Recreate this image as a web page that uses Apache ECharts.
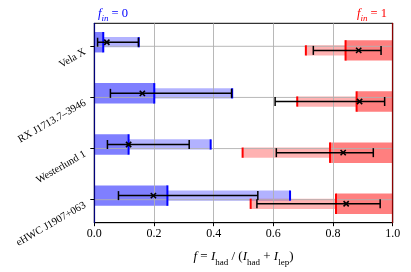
<!DOCTYPE html>
<html>
<head>
<meta charset="utf-8">
<script src="https://cdn.jsdelivr.net/npm/echarts@6/dist/echarts.min.js"></script>
<style>html,body{margin:0;padding:0;background:#fff}#c{width:411px;height:272px}</style>
</head>
<body>
<div id="c"></div>
<script>
const categories = ['Vela X', 'RX J1713.7\u20133946', 'Westerlund 1', 'eHWC J1907+063'];
const xTicks = [0, 0.2, 0.4, 0.6, 0.8, 1.0];
// f_in = 0 (blue)
const blueDark = [0.030, 0.201, 0.115, 0.245];
const blueLight = [0.149, 0.462, 0.390, 0.656];
const blueErrLow = [0.011, 0.054, 0.044, 0.081];
const blueVal = [0.042, 0.161, 0.115, 0.198];
const blueErrHigh = [0.148, 0.460, 0.318, 0.548];
// f_in = 1 (red)
const redLight = [0.709, 0.680, 0.497, 0.524];
const redDark = [0.842, 0.879, 0.790, 0.810];
const redErrLow = [0.734, 0.606, 0.610, 0.545];
const redVal = [0.886, 0.889, 0.834, 0.844];
const redErrHigh = [0.961, 0.973, 0.935, 0.958];

const FONT = 'Liberation Serif';
const OFF = 0.08;     // vertical offset of each group (category units)
const HD = 0.40;      // dark bar height
const HL = 0.20;      // light bar height

const blueData = categories.map((c, i) => [i, blueDark[i], blueLight[i], blueErrLow[i], blueVal[i], blueErrHigh[i]]);
const redData = categories.map((c, i) => [i, redDark[i], redLight[i], redErrLow[i], redVal[i], redErrHigh[i]]);

function barsRenderer(side) {
  return function (params, api) {
    const i = api.value(0), dark = api.value(1), light = api.value(2);
    const y = i + (side === 'blue' ? -OFF : OFF);
    const hd = api.size([0, HD])[1], hl = api.size([0, HL])[1];
    const cy = api.coord([0, y])[1];
    let dx0, dx1, lx0, lx1, darkC, lightC;
    if (side === 'blue') {
      dx0 = api.coord([0, y])[0]; dx1 = api.coord([dark, y])[0];
      lx0 = dx1; lx1 = api.coord([light, y])[0];
      darkC = 'rgba(0,0,255,0.5)'; lightC = 'rgba(0,0,255,0.3)';
    } else {
      dx0 = api.coord([dark, y])[0]; dx1 = api.coord([1, y])[0];
      lx0 = api.coord([light, y])[0]; lx1 = dx0;
      darkC = 'rgba(255,0,0,0.5)'; lightC = 'rgba(255,0,0,0.3)';
    }
    return {
      type: 'group', children: [
        { type: 'rect', shape: { x: lx0, y: cy - hl / 2, width: lx1 - lx0, height: hl }, style: { fill: lightC } },
        { type: 'rect', shape: { x: dx0, y: cy - hd / 2, width: dx1 - dx0, height: hd }, style: { fill: darkC } }
      ]
    };
  };
}

function marksRenderer(side) {
  return function (params, api) {
    const i = api.value(0), dark = api.value(1), light = api.value(2);
    const lo = api.value(3), val = api.value(4), hi = api.value(5);
    const y = i + (side === 'blue' ? -OFF : OFF);
    const hd = api.size([0, HD])[1], hl = api.size([0, HL])[1];
    const cy = api.coord([0, y])[1];
    const col = side === 'blue' ? '#0000ff' : '#ff0000';
    const xd = api.coord([dark, y])[0], xl = api.coord([light, y])[0];
    const xlo = api.coord([lo, y])[0], xv = api.coord([val, y])[0], xhi = api.coord([hi, y])[0];
    const cap = 4.5, m = 2.6;
    const blk = { stroke: '#000', lineWidth: 1.5 };
    return {
      type: 'group', children: [
        { type: 'line', shape: { x1: xd, y1: cy - hd / 2, x2: xd, y2: cy + hd / 2 }, style: { stroke: col, lineWidth: 2 } },
        { type: 'line', shape: { x1: xl, y1: cy - hl / 2, x2: xl, y2: cy + hl / 2 }, style: { stroke: col, lineWidth: 2 } },
        { type: 'line', shape: { x1: xlo, y1: cy, x2: xhi, y2: cy }, style: blk },
        { type: 'line', shape: { x1: xlo, y1: cy - cap, x2: xlo, y2: cy + cap }, style: blk },
        { type: 'line', shape: { x1: xhi, y1: cy - cap, x2: xhi, y2: cy + cap }, style: blk },
        { type: 'line', shape: { x1: xv - m, y1: cy - m, x2: xv + m, y2: cy + m }, style: { stroke: '#000', lineWidth: 1.6 } },
        { type: 'line', shape: { x1: xv - m, y1: cy + m, x2: xv + m, y2: cy - m }, style: { stroke: '#000', lineWidth: 1.6 } }
      ]
    };
  };
}

function gridRenderer(params, api) {
  const i = api.value(0);
  const p0 = api.coord([0, i]), p1 = api.coord([1, i]);
  return { type: 'line', shape: { x1: p0[0], y1: p0[1], x2: p1[0], y2: p1[1] }, style: { stroke: '#b0b0b0', lineWidth: 0.9 } };
}

function titleStyle(color) {
  return { fontFamily: FONT, fontSize: 12.5, fontWeight: 'normal', color: color, rich: {
    i: { fontFamily: FONT, fontStyle: 'italic', fontWeight: 'normal', fontSize: 12.5, color: color },
    s: { fontFamily: FONT, fontStyle: 'italic', fontWeight: 'normal', fontSize: 9, color: color, verticalAlign: 'top', padding: [7, 0, 0, 0], lineHeight: 9 },
    n: { fontFamily: FONT, fontWeight: 'normal', fontSize: 12.5, color: color } } };
}

const chart = echarts.init(document.getElementById('c'), null, { renderer: 'canvas' });
chart.setOption({
  animation: false,
  backgroundColor: '#fff',
  title: [
    { text: '{i|f}{s|in}{n| = 0}', left: 93, top: 2, textStyle: titleStyle('#0000ff') },
    { text: '{i|f}{s|in}{n| = 1}', right: 19, top: 2, textStyle: titleStyle('#ff0000') }
  ],
  grid: { left: 94.3, right: 18.3, top: 23.3, bottom: 49.3, show: true, borderColor: '#000', borderWidth: 1, backgroundColor: 'transparent' },
  xAxis: {
    type: 'value', min: 0, max: 1, interval: 0.2, z: 3,
    axisLine: { show: true, onZero: false, lineStyle: { color: '#000', width: 1 } },
    axisTick: { show: true, length: 3.5, lineStyle: { color: '#000' } },
    axisLabel: { formatter: v => v.toFixed(1), fontFamily: FONT, fontSize: 12, color: '#000', margin: 5 },
    splitLine: { show: true, lineStyle: { color: '#b0b0b0', width: 0.9 } },
    name: '{i|f} = {i|I}{s|had} / ({i|I}{s|had} + {i|I}{s|lep})',
    nameLocation: 'middle', nameGap: 27,
    nameTextStyle: { fontFamily: FONT, fontSize: 13, color: '#000', rich: {
      i: { fontFamily: FONT, fontStyle: 'italic', fontSize: 13, color: '#000' },
      s: { fontFamily: FONT, fontSize: 9, color: '#000', verticalAlign: 'top', padding: [8, 0, 0, 0], lineHeight: 9 } } }
  },
  yAxis: [
    {
      type: 'value', inverse: true, min: -0.45, max: 3.45, z: 6,
      axisLine: { show: true, onZero: false, lineStyle: { color: '#00007a', width: 1.2 } },
      axisTick: { show: true, length: 4, customValues: [0, 1, 2, 3], lineStyle: { color: '#000' } },
      axisLabel: { customValues: [0, 1, 2, 3], formatter: v => categories[Math.round(v)], rotate: 30,
        align: 'right', verticalAlign: 'top',
        fontFamily: FONT, fontSize: 10.5, color: '#000', margin: 12 },
      splitLine: { show: false }
    },
    {
      type: 'value', inverse: true, min: -0.45, max: 3.45, position: 'right', z: 6,
      axisLine: { show: true, onZero: false, lineStyle: { color: '#8b0000', width: 1.2 } },
      axisTick: { show: false }, axisLabel: { show: false }, splitLine: { show: false }
    }
  ],
  series: [
    { type: 'custom', z: 2, renderItem: barsRenderer('blue'), data: blueData, encode: { x: [1, 2], y: 0 } },
    { type: 'custom', z: 2, renderItem: barsRenderer('red'), data: redData, encode: { x: [1, 2], y: 0 } },
    { type: 'custom', z: 3, renderItem: gridRenderer, data: categories.map((c, i) => [i]), encode: { y: 0 } },
    { type: 'custom', z: 5, renderItem: marksRenderer('blue'), data: blueData, encode: { x: [3, 5], y: 0 } },
    { type: 'custom', z: 5, renderItem: marksRenderer('red'), data: redData, encode: { x: [3, 5], y: 0 } }
  ]
});
</script>
</body>
</html>
